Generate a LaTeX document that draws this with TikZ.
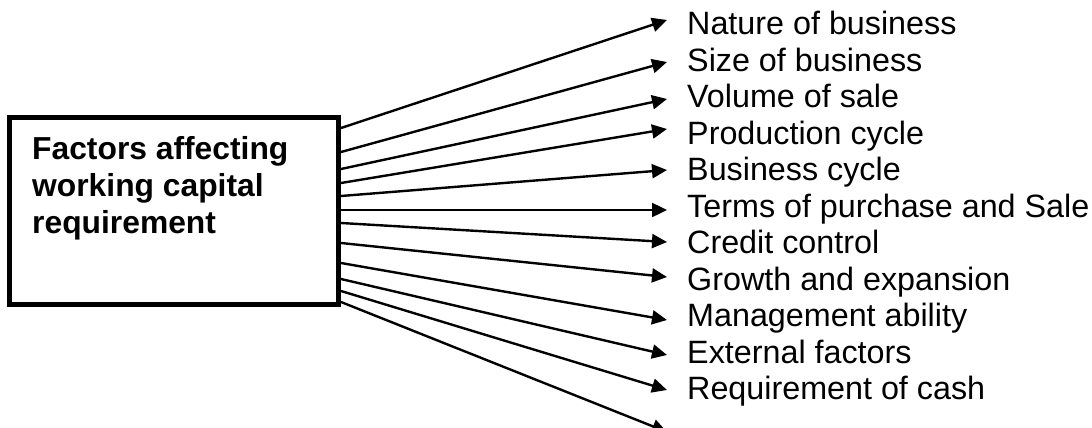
\documentclass[tikz,border=0pt]{standalone}
\usepackage{fontspec}
\setmainfont{Liberation Sans}
\usetikzlibrary{arrows.meta}
\tikzset{
  boxstyle/.style={draw=black, line width=5pt, inner sep=0pt, minimum width=329pt, minimum height=187pt},
  boxtext/.style={inner sep=0pt, align=left, font=\fontsize{31.8}{37.3}\selectfont\bfseries},
  label/.style={inner sep=0pt, anchor=base west, font=\fontsize{32.3}{36.5}\selectfont},
  arr/.style={line width=2.4pt, -{Triangle[length=15pt,width=14pt]}}
}
\begin{document}
\begin{tikzpicture}[x=1pt,y=-1pt]
\useasboundingbox (0,0) rectangle (1092,428);
\node[boxstyle] (box) at (174,211) {};
\node[boxtext, anchor=base west] (btext) at (32,233.6) {Factors affecting\\working capital\\requirement};
\foreach \i/\txt in {1/Nature of business,2/Size of business,3/Volume of sale,4/Production cycle,5/Business cycle,6/Terms of purchase and Sale,7/Credit control,8/Growth and expansion,9/Management ability,10/External factors,11/Requirement of cash}{
  \node[label] (l\i) at (687,{34.7+36.5*(\i-1)}) {\txt};
}
\foreach \i/\sy/\ty in {1/128/20,2/152/62,3/169/99,4/183/129,5/196/170,6/210/210,7/223/242,8/243/277,9/263/320,10/279/355,11/291/390,12/302/432}{
  \coordinate (s\i) at (box.east |- 0,\sy);
  \coordinate (t\i) at (667,\ty);
  \draw[arr] (s\i) -- (t\i);
}
\end{tikzpicture}
\end{document}
